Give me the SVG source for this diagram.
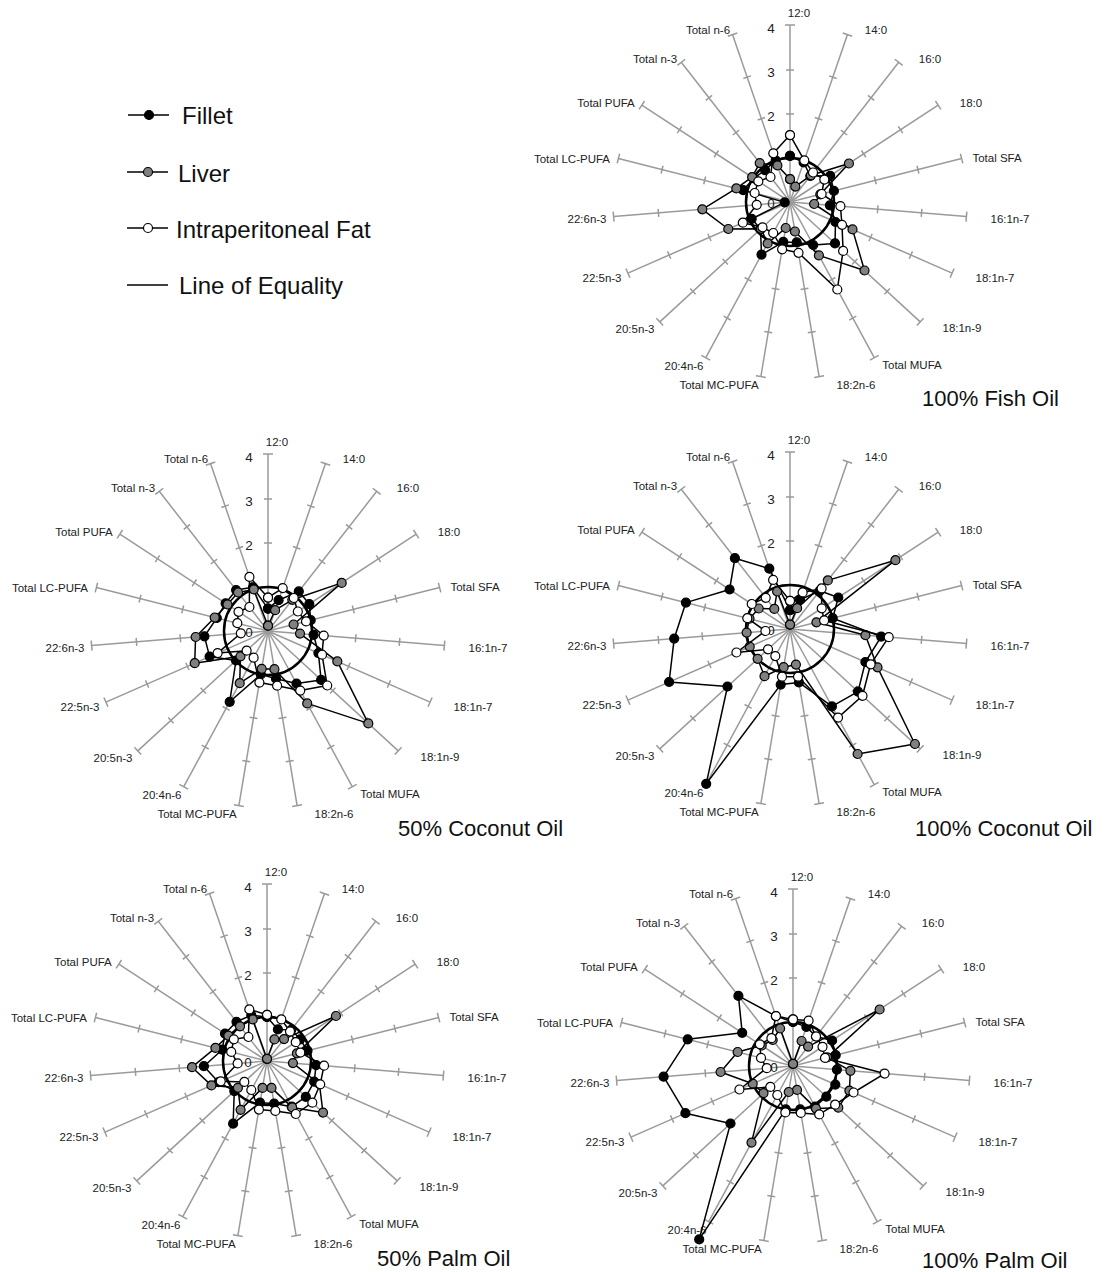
<svg xmlns="http://www.w3.org/2000/svg" xmlns:xlink="http://www.w3.org/1999/xlink" width="1108" height="1272" viewBox="0 0 1108 1272">
<style>
.lab{font-family:"Liberation Sans",Arial,sans-serif;font-size:11.5px;fill:#222;text-anchor:middle}
.num{font-family:"Liberation Sans",Arial,sans-serif;font-size:13.5px;fill:#222;text-anchor:middle}
.ttl{font-family:"Liberation Sans",Arial,sans-serif;font-size:22px;fill:#111}
.leg{font-family:"Liberation Sans",Arial,sans-serif;font-size:24px;fill:#111}
.eq{fill:none;stroke:#000;stroke-width:2.5}
.ser{fill:none;stroke:#000;stroke-width:1.5;stroke-linejoin:round}
.sf{marker-start:url(#mf);marker-mid:url(#mf);marker-end:url(#mf)}
.sl{marker-start:url(#ml);marker-mid:url(#ml);marker-end:url(#ml)}
.sw{marker-start:url(#mw);marker-mid:url(#mw);marker-end:url(#mw)}
.dot{stroke:#000;stroke-width:1.2}
</style>
<defs>
<marker id="mf" markerUnits="userSpaceOnUse" markerWidth="12" markerHeight="12" refX="6" refY="6" overflow="visible"><circle cx="6" cy="6" r="4.5" fill="#000" stroke="#000" stroke-width="1.2"/></marker>
<marker id="ml" markerUnits="userSpaceOnUse" markerWidth="12" markerHeight="12" refX="6" refY="6" overflow="visible"><circle cx="6" cy="6" r="4.5" fill="#808080" stroke="#000" stroke-width="1.2"/></marker>
<marker id="mw" markerUnits="userSpaceOnUse" markerWidth="12" markerHeight="12" refX="6" refY="6" overflow="visible"><circle cx="6" cy="6" r="4.5" fill="#fff" stroke="#000" stroke-width="1.2"/></marker>
<g id="axis" stroke="#9a9a9a" stroke-width="1.5" fill="none">
<line x1="0" y1="0" x2="0" y2="-177"/>
<path d="M-4,-44H4M-4,-88H4M-4,-132H4M-5,-177H5"/>
</g>
<g id="axes">
<use xlink:href="#axis" transform="rotate(0)"/>
<use xlink:href="#axis" transform="rotate(18.947)"/>
<use xlink:href="#axis" transform="rotate(37.895)"/>
<use xlink:href="#axis" transform="rotate(56.842)"/>
<use xlink:href="#axis" transform="rotate(75.789)"/>
<use xlink:href="#axis" transform="rotate(94.737)"/>
<use xlink:href="#axis" transform="rotate(113.684)"/>
<use xlink:href="#axis" transform="rotate(132.632)"/>
<use xlink:href="#axis" transform="rotate(151.579)"/>
<use xlink:href="#axis" transform="rotate(170.526)"/>
<use xlink:href="#axis" transform="rotate(189.474)"/>
<use xlink:href="#axis" transform="rotate(208.421)"/>
<use xlink:href="#axis" transform="rotate(227.368)"/>
<use xlink:href="#axis" transform="rotate(246.316)"/>
<use xlink:href="#axis" transform="rotate(265.263)"/>
<use xlink:href="#axis" transform="rotate(284.211)"/>
<use xlink:href="#axis" transform="rotate(303.158)"/>
<use xlink:href="#axis" transform="rotate(322.105)"/>
<use xlink:href="#axis" transform="rotate(341.053)"/>
</g>
<g id="labels">
<text class="lab" x="9" y="-185">12:0</text>
<text class="lab" x="86" y="-168">14:0</text>
<text class="lab" x="140" y="-139">16:0</text>
<text class="lab" x="181" y="-95">18:0</text>
<text class="lab" x="207" y="-40">Total SFA</text>
<text class="lab" x="220" y="21">16:1n-7</text>
<text class="lab" x="205" y="80">18:1n-7</text>
<text class="lab" x="172" y="130">18:1n-9</text>
<text class="lab" x="122" y="167">Total MUFA</text>
<text class="lab" x="66" y="187">18:2n-6</text>
<text class="lab" x="-71" y="187">Total MC-PUFA</text>
<text class="lab" x="-106" y="168">20:4n-6</text>
<text class="lab" x="-155" y="131">20:5n-3</text>
<text class="lab" x="-188" y="80">22:5n-3</text>
<text class="lab" x="-203" y="21">22:6n-3</text>
<text class="lab" x="-218" y="-39">Total LC-PUFA</text>
<text class="lab" x="-184" y="-95">Total PUFA</text>
<text class="lab" x="-135" y="-139">Total n-3</text>
<text class="lab" x="-82" y="-168">Total n-6</text>
</g>
<g id="nums">
<text class="num" x="-19" y="-169">4</text>
<text class="num" x="-19" y="-125.5">3</text>
<text class="num" x="-19" y="-81.5">2</text>
<text class="num" x="-19" y="6">0</text>
</g>
<g id="frame">
<use xlink:href="#axes"/>
<use xlink:href="#nums"/>
<use xlink:href="#labels"/>
<circle class="eq" cx="0" cy="0" r="44"/>
</g>
</defs>

<g id="legend">
<g id="legend-fillet"><line x1="128" y1="115" x2="169" y2="115" stroke="#000" stroke-width="1.6"/><circle class="dot" cx="149" cy="115" r="4.5" fill="#000"/><text class="leg" x="182" y="124">Fillet</text></g>
<g id="legend-liver"><line x1="127" y1="172" x2="168" y2="172" stroke="#000" stroke-width="1.6"/><circle class="dot" cx="148" cy="172" r="4.5" fill="#808080"/><text class="leg" x="178" y="182">Liver</text></g>
<g id="legend-fat"><line x1="127" y1="228" x2="168" y2="228" stroke="#000" stroke-width="1.6"/><circle class="dot" cx="148" cy="228" r="4.5" fill="#fff"/><text class="leg" x="176" y="238">Intraperitoneal Fat</text></g>
<g id="legend-equality"><line x1="127" y1="285" x2="168" y2="285" stroke="#000" stroke-width="1.6"/><text class="leg" x="179" y="294">Line of Equality</text></g>
</g>

<g id="chart-fish-oil" transform="translate(790,202)">
<use xlink:href="#frame"/>
<g id="series-fish-oil">
<polygon class="ser sf" points="0,-46.2 13.6,-39.5 20.3,-26.0 40.2,-26.2 43.9,-11.1 39.9,3.3 45.5,20.0 45.0,41.4 23.2,43.0 6.7,40.4 -6.7,39.9 -28.5,52.6 -29.5,27.1 -38.3,16.8 -5.3,0.4 -46.9,-11.9 -36.1,-23.6 -24.9,-31.9 -14.3,-41.6"/>
<polygon class="ser sl" points="0,-22.9 5.3,-15.4 20.8,-26.7 58.9,-38.5 30.3,-7.7 24.1,2.0 62.5,27.4 74.5,68.5 28.9,53.4 4.9,29.5 -4.3,26.0 -22.4,41.4 -29.1,26.8 -61.7,27.0 -87.7,7.3 -53.7,-13.6 -37.9,-24.8 -30.3,-38.9 -12.6,-36.6"/>
<polygon class="ser sw" points="0,-66.9 14.3,-41.6 23.0,-29.5 34.3,-22.4 31.6,-8.0 50.4,4.2 52.0,22.8 53.1,48.9 47.3,87.5 8.5,50.8 -7.9,47.3 -16.8,31.0 -27.5,25.3 -47.2,20.7 -33.3,2.8 -35.4,-9.0 -31.7,-20.7 -19.5,-25.0 -16.7,-48.7"/>
</g>
</g>
<text class="ttl" x="922" y="406">100% Fish Oil</text>

<g id="chart-50-coconut" transform="translate(268,631)">
<use xlink:href="#frame"/>
<g id="series-50-coconut">
<polygon class="ser sf" points="0,-22.4 10.6,-30.8 30.8,-39.6 41.3,-26.9 42.7,-10.8 45.6,3.8 50.4,22.1 53.1,48.9 28.5,52.6 8.0,47.7 -7.2,43.4 -38.3,70.8 -32.0,29.5 -58.4,25.6 -63.6,5.3 -51.2,-13.0 -42.4,-27.7 -31.9,-41.0 -15.0,-43.7"/>
<polygon class="ser sl" points="0,-5.3 7.1,-20.8 24.3,-31.2 73.7,-48.1 25.6,-6.5 32.0,2.6 69.3,30.4 100.3,92.4 39.2,72.4 6.4,38.2 -6.3,37.8 -28.3,52.2 -27.5,25.3 -73.3,32.2 -72.4,6.0 -53.3,-13.5 -40.5,-26.5 -30.0,-38.5 -14.3,-41.6"/>
<polygon class="ser sw" points="0,-33.4 14.7,-42.9 25.7,-33.0 29.8,-19.5 38.0,-9.6 55.7,4.6 54.0,23.7 59.2,54.5 32.2,59.6 9.1,54.7 -8.6,51.6 -14.4,26.7 -21.4,19.7 -50.4,22.1 -27.2,2.3 -30.7,-7.8 -29.5,-19.2 -18.6,-24.0 -18.6,-54.1"/>
</g>
</g>
<text class="ttl" x="398" y="836">50% Coconut Oil</text>

<g id="chart-100-coconut" transform="translate(790,629)">
<use xlink:href="#frame"/>
<g id="series-100-coconut">
<polygon class="ser sf" points="0,-18.9 10.0,-29.1 29.7,-38.2 48.3,-31.5 42.7,-10.8 91.2,7.6 75.4,33.0 68.0,62.6 41.9,77.4 8.9,53.4 -9.3,55.6 -83.8,154.8 -62.5,57.5 -120.9,53.0 -115.8,9.6 -104.1,-26.4 -60.4,-39.5 -55.1,-70.8 -20.7,-60.3"/>
<polygon class="ser sl" points="0,-4.4 7.1,-20.8 37.8,-48.6 105.4,-68.8 26.4,-6.7 75.4,6.2 87.5,38.3 124.9,115.0 67.6,125.0 5.9,35.6 -6.4,38.2 -25.5,47.2 -32.4,29.8 -40.3,17.7 -43.4,3.6 -40.5,-10.3 -31.3,-20.5 -15.7,-20.1 -12.9,-37.5"/>
<polygon class="ser sw" points="0,-28.2 12.6,-36.6 31.6,-40.6 31.7,-20.7 34.1,-8.6 98.7,8.2 80.6,35.3 72.5,66.8 48.0,88.6 8.0,47.7 -8.0,47.7 -14.7,27.1 -22.0,20.3 -53.6,23.5 -24.6,2.0 -42.7,-10.8 -38.3,-25.0 -24.3,-31.2 -16.9,-49.1"/>
</g>
</g>
<text class="ttl" x="915" y="836">100% Coconut Oil</text>

<g id="chart-50-palm" transform="translate(267,1061)">
<use xlink:href="#frame"/>
<g id="series-50-palm">
<polygon class="ser sf" points="0,-44.0 10.9,-31.6 24.3,-31.2 33.2,-21.7 40.5,-10.3 49.1,4.1 47.2,20.7 38.8,35.8 24.7,45.7 7.1,42.5 -7.0,41.7 -33.9,62.7 -32.7,30.1 -48.4,21.2 -63.1,5.2 -44.8,-11.3 -42.0,-27.4 -30.5,-39.2 -15.7,-45.8"/>
<polygon class="ser sl" points="0,-2.2 7.4,-21.6 17.0,-21.9 68.9,-45.0 29.9,-7.6 25.9,2.1 52.4,23.0 56.0,51.6 25.1,46.4 4.5,26.9 -4.5,26.9 -26.4,48.8 -29.1,26.8 -55.6,24.4 -75.0,6.2 -51.6,-13.1 -38.7,-25.3 -27.0,-34.7 -14.3,-41.6"/>
<polygon class="ser sw" points="0,-46.2 14.3,-41.6 23.0,-29.5 28.7,-18.8 33.3,-8.4 57.0,4.7 53.2,23.3 45.3,41.7 28.7,53.0 8.3,49.9 -8.1,48.6 -15.7,29.0 -22.7,20.9 -46.3,20.3 -29.4,2.4 -35.8,-9.1 -33.2,-21.7 -18.6,-24.0 -17.7,-51.6"/>
</g>
</g>
<text class="ttl" x="377" y="1266">50% Palm Oil</text>

<g id="chart-100-palm" transform="translate(793,1066)">
<use xlink:href="#frame"/>
<g id="series-100-palm">
<polygon class="ser sf" points="0,-44.0 13.4,-39.1 23.0,-29.5 39.1,-25.5 42.7,-10.8 43.9,3.6 42.3,18.6 33.3,30.7 22.0,40.6 7.2,43.4 -7.2,43.4 -93.8,173.4 -62.5,57.5 -107.6,47.2 -129.4,10.7 -105.3,-26.7 -50.8,-33.2 -54.6,-70.1 -17.1,-49.9"/>
<polygon class="ser sl" points="0,-2.2 8.6,-25.0 15.1,-19.4 86.6,-56.5 34.1,-8.6 57.4,4.8 56.4,24.7 45.3,41.7 23.0,42.6 4.0,23.9 -4.3,26.0 -41.5,76.6 -29.5,27.1 -40.3,17.7 -72.4,6.0 -55.4,-14.0 -31.3,-20.5 -20.3,-26.0 -12.9,-37.5"/>
<polygon class="ser sw" points="0,-46.6 15.6,-45.4 23.0,-29.5 29.5,-19.2 32.0,-8.1 91.6,7.6 60.5,26.5 42.1,38.7 26.2,48.4 7.8,46.9 -7.7,46.4 -15.7,29.0 -22.7,20.9 -53.6,23.5 -26.3,2.2 -32.0,-8.1 -33.2,-21.7 -21.6,-27.8 -17.1,-49.9"/>
</g>
</g>
<text class="ttl" x="922" y="1268">100% Palm Oil</text>
</svg>
